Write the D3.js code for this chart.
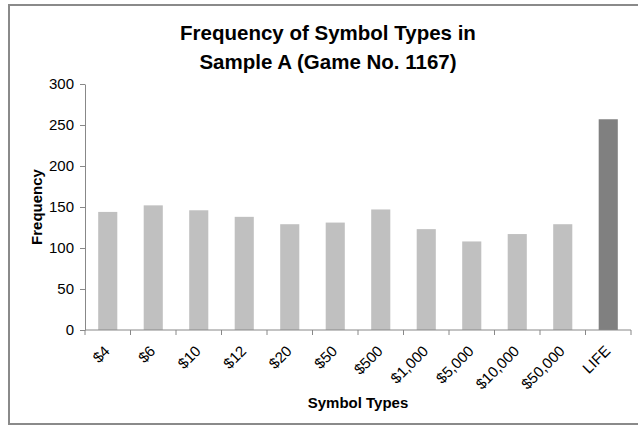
<!DOCTYPE html>
<html>
<head>
<meta charset="utf-8">
<script src="https://cdn.jsdelivr.net/npm/d3@7"></script>
<style>
  body { margin: 0; background: #fff; }
  text { font-family: "Liberation Sans", Arial, sans-serif; }
</style>
</head>
<body>
<div id="chart"></div>
<script>
const categories = ["$4", "$6", "$10", "$12", "$20", "$50", "$500", "$1,000", "$5,000", "$10,000", "$50,000", "LIFE"];
const frequencies = [144, 152, 146, 138, 129, 131, 147, 123, 108, 117, 129, 257];
const yTicks = [0, 50, 100, 150, 200, 250, 300];

const width = 638, height = 427;
const margin = { top: 84, right: 7, bottom: 97, left: 85 };
const plotW = width - margin.left - margin.right;
const plotH = height - margin.top - margin.bottom;

const svg = d3.select("#chart").append("svg")
  .attr("width", width)
  .attr("height", height);

// outer frame
svg.append("rect")
  .attr("x", 9).attr("y", 5)
  .attr("width", 640).attr("height", 419)
  .attr("fill", "none")
  .attr("stroke", "#8a8a8a")
  .attr("stroke-width", 2);

// title
svg.append("text")
  .attr("x", 328).attr("y", 40)
  .attr("text-anchor", "middle")
  .attr("font-size", 20.5).attr("font-weight", "bold")
  .text("Frequency of Symbol Types in");
svg.append("text")
  .attr("x", 328).attr("y", 69)
  .attr("text-anchor", "middle")
  .attr("font-size", 20.5).attr("font-weight", "bold")
  .text("Sample A (Game No. 1167)");

const g = svg.append("g")
  .attr("transform", `translate(${margin.left},${margin.top})`);

const x = d3.scaleBand().domain(categories).range([0, plotW]).paddingInner(0.58).paddingOuter(0.29);
const y = d3.scaleLinear().domain([0, 300]).range([plotH, 0]);

g.selectAll(".bar")
  .data(categories)
  .join("rect")
  .attr("class", "bar")
  .attr("x", d => x(d))
  .attr("y", (d, i) => y(frequencies[i]))
  .attr("width", x.bandwidth())
  .attr("height", (d, i) => plotH - y(frequencies[i]))
  .attr("fill", d => d === "LIFE" ? "#808080" : "#c0c0c0");

// y axis
const yAxis = g.append("g")
  .call(d3.axisLeft(y).tickValues(yTicks).tickSize(5).tickPadding(6).tickSizeOuter(0));
yAxis.select(".domain").attr("stroke", "#888");
yAxis.selectAll(".tick line").attr("stroke", "#888");
yAxis.selectAll(".tick text")
  .attr("font-size", 15).attr("fill", "#000")
  .style("font-family", "Liberation Sans, Arial, sans-serif");

// x axis: tick marks at category boundaries
const step = plotW / categories.length;
const xb = g.append("g").attr("transform", `translate(0,${plotH})`);
xb.append("line")
  .attr("x1", 0).attr("x2", plotW)
  .attr("stroke", "#888");
xb.selectAll(".bt")
  .data(d3.range(categories.length + 1))
  .join("line")
  .attr("x1", i => i * step).attr("x2", i => i * step)
  .attr("y1", 0).attr("y2", 5)
  .attr("stroke", "#888");
xb.selectAll(".lbl")
  .data(categories)
  .join("text")
  .attr("text-anchor", "end")
  .attr("font-size", 15)
  .attr("transform", d => `translate(${x(d) + x.bandwidth() / 2 + 3},${22}) rotate(-45)`)
  .text(d => d);

// axis titles
svg.append("text")
  .attr("x", margin.left + plotW / 2).attr("y", 408)
  .attr("text-anchor", "middle")
  .attr("font-size", 15).attr("font-weight", "bold")
  .text("Symbol Types");
svg.append("text")
  .attr("transform", `translate(42,207) rotate(-90)`)
  .attr("text-anchor", "middle")
  .attr("font-size", 15).attr("font-weight", "bold")
  .text("Frequency");
</script>
</body>
</html>
